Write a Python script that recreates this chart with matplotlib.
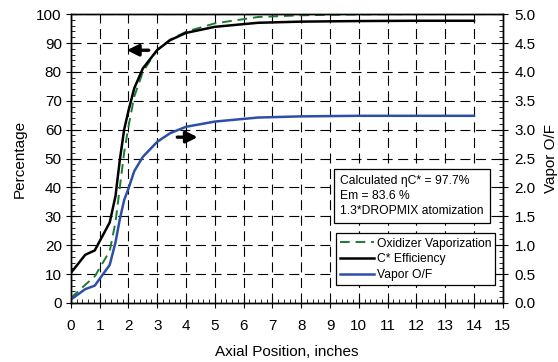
import matplotlib
matplotlib.use("Agg")
import matplotlib.pyplot as plt
from matplotlib.ticker import MultipleLocator, FormatStrFormatter

plt.rcParams['font.family'] = ['Liberation Sans', 'DejaVu Sans']
plt.rcParams['font.size'] = 11

# axial position (inches) and the three profiles
x_pos = [0.0, 0.5, 0.83, 1.35, 1.55, 1.7, 1.85, 2.0, 2.2, 2.5, 3.0, 3.45, 4.0, 5.0, 6.5, 8.0, 10.0, 12.0, 14.0]
cstar_eff = [10.4, 16.7, 18.2, 27.9, 37.0, 49.5, 60.0, 66.5, 74.3, 81.2, 87.6, 91.0, 93.5, 95.6, 97.0, 97.4, 97.6, 97.7, 97.7]
ox_vap = [1.7, 6.3, 9.2, 18.0, 28.0, 40.0, 52.0, 61.0, 71.4, 80.0, 87.6, 91.2, 93.9, 96.8, 99.0, 99.6, 99.9, 100.0, 100.0]
vapor_of = [0.06, 0.24, 0.30, 0.66, 1.05, 1.45, 1.78, 1.98, 2.28, 2.53, 2.79, 2.94, 3.05, 3.14, 3.21, 3.23, 3.24, 3.24, 3.24]

note_lines = ["Calculated \u03b7C* = 97.7%", "Em = 83.6 %", "1.3*DROPMIX atomization"]

fig = plt.figure(figsize=(5.58, 3.62), dpi=100)
ax = fig.add_axes([0.127, 0.163, 0.774, 0.798])
ax2 = ax.twinx()

l1, = ax.plot(x_pos, ox_vap, color="#1e7a34", lw=1.4, ls=(0, (5, 3)), label="Oxidizer Vaporization")
l2, = ax.plot(x_pos, cstar_eff, color="black", lw=1.8, label="C* Efficiency")
l3, = ax2.plot(x_pos, vapor_of, color="#2e4fa8", lw=1.8, label="Vapor O/F")

ax.set_xlim(0, 15)
ax.set_ylim(0, 100)
ax2.set_ylim(0, 5)

ax.xaxis.set_major_locator(MultipleLocator(1))
ax.xaxis.set_minor_locator(MultipleLocator(0.2))
ax.yaxis.set_major_locator(MultipleLocator(10))
ax.yaxis.set_minor_locator(MultipleLocator(2))
ax2.yaxis.set_major_locator(MultipleLocator(0.5))
ax2.yaxis.set_minor_locator(MultipleLocator(0.1))
ax2.yaxis.set_major_formatter(FormatStrFormatter("%.1f"))

ax.grid(True, which="major", color="black", ls=(0, (9, 5)), lw=0.8)
for a in (ax, ax2):
    a.tick_params(which="major", direction="inout", length=7, width=0.8, labelsize=11, pad=3)
    a.tick_params(which="minor", direction="in", length=3, width=0.6)
    for s in a.spines.values():
        s.set_linewidth(1.0)
ax.tick_params(axis="x", which="major", pad=8)
ax2.tick_params(axis="y", which="major", pad=5)

ax.set_xlabel("Axial Position, inches", fontsize=11, labelpad=9)
ax.set_ylabel("Percentage", fontsize=11, labelpad=7)
ax2.set_ylabel("Vapor O/F", fontsize=11, labelpad=6)

# arrows showing which axis each curve belongs to
ax.annotate("", xy=(1.85, 87.5), xytext=(2.8, 87.5),
            arrowprops=dict(arrowstyle="-|>", color="black", lw=2.4, mutation_scale=17))
ax.annotate("", xy=(4.5, 57.4), xytext=(3.6, 57.4),
            arrowprops=dict(arrowstyle="-|>", color="black", lw=2.4, mutation_scale=17))

ax.text(9.35, 37, "\n".join(note_lines), fontsize=8.7, va="center", ha="left", linespacing=1.35,
        bbox=dict(boxstyle="square,pad=0.5", fc="white", ec="black", lw=0.9), zorder=5)

leg = ax2.legend(handles=[l1, l2, l3], loc="lower right", bbox_to_anchor=(0.983, 0.062),
                 fontsize=8.7, frameon=True, fancybox=False, edgecolor="black", framealpha=1,
                 handlelength=2.8, handletextpad=0.2, borderpad=0.35, labelspacing=0.3,
                 borderaxespad=0)
leg.get_frame().set_linewidth(0.9)

fig.savefig("out.png", dpi=100)
